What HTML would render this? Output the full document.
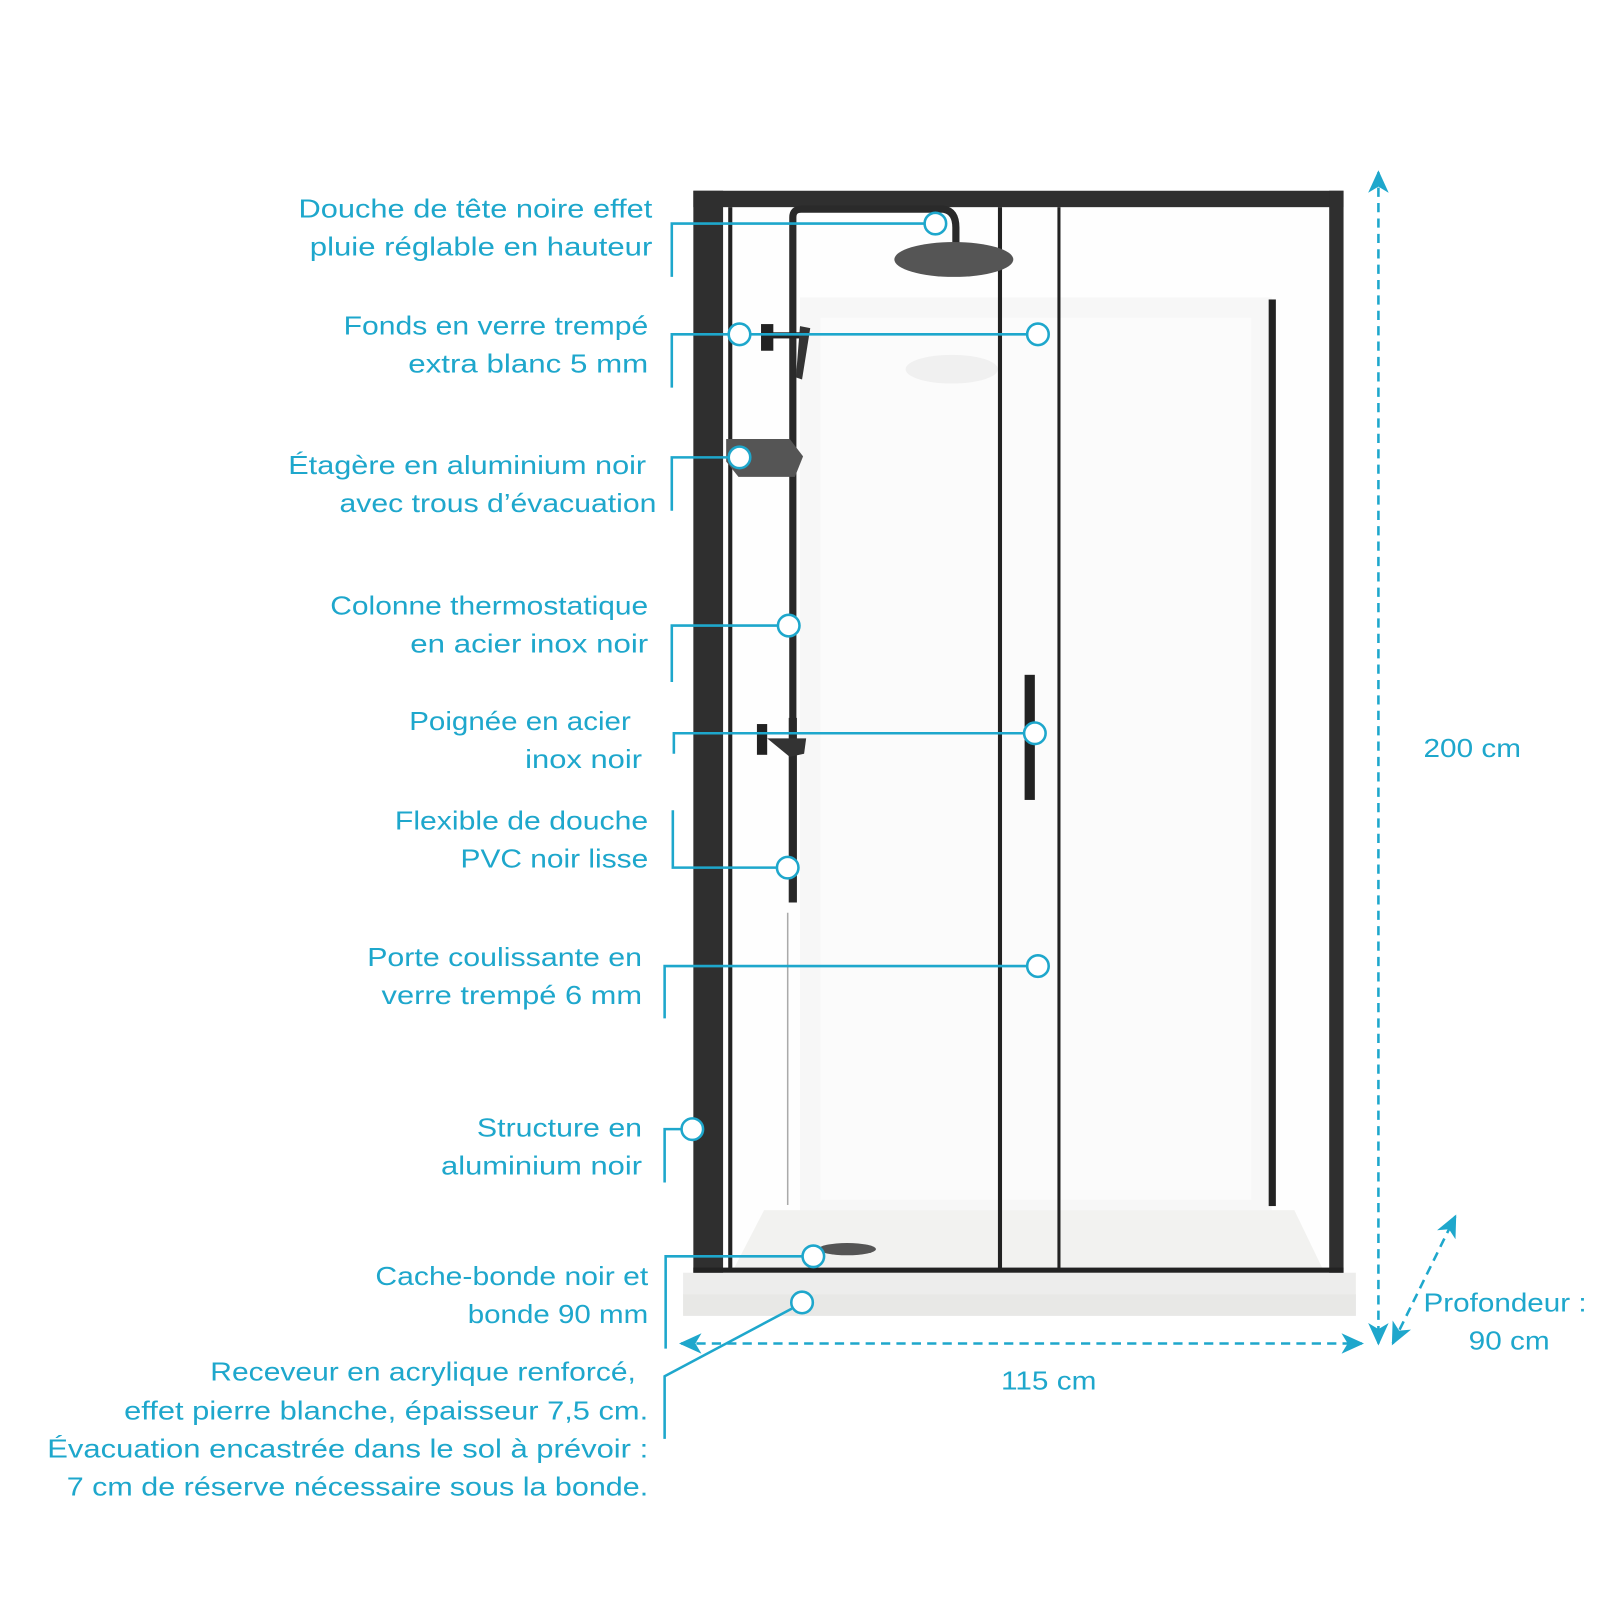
<!DOCTYPE html>
<html><head><meta charset="utf-8"><style>html,body{margin:0;padding:0;background:#fff;width:1600px;height:1605px;overflow:hidden}</style></head>
<body>
<svg width="1600" height="1605" viewBox="0 0 1560 1565" xmlns="http://www.w3.org/2000/svg">
<defs>
<marker id="ah" markerWidth="22" markerHeight="20" refX="20" refY="10" orient="auto-start-reverse" markerUnits="userSpaceOnUse" viewBox="0 0 22 20"><path d="M0,0 L22,10 L0,20 L6,10 Z" fill="#1ea7cc"/></marker>
</defs>
<rect width="1560" height="1565" fill="#fff"/>
<!-- walls -->
<rect x="705" y="202" width="591" height="1036" fill="#fefefe"/>
<rect x="780" y="290" width="460" height="890" fill="#f7f7f7"/>
<rect x="800" y="310" width="420" height="860" fill="#fbfbfb"/>
<polygon points="745,1180 1262,1180 1290,1238 715,1238" fill="#f2f2f0"/>
<ellipse cx="928" cy="360" rx="45" ry="14" fill="#f0f0f0"/>
<!-- tray -->
<rect x="666" y="1241" width="656" height="42" fill="#ededec"/>
<rect x="666" y="1262" width="656" height="21" fill="#e8e8e6"/>
<ellipse cx="826" cy="1218" rx="28" ry="6" fill="#555"/>
<!-- frame -->
<rect x="676" y="186" width="634" height="16" fill="#2f2f2f"/>
<rect x="676" y="186" width="29" height="1055" fill="#2f2f2f"/>
<rect x="1296" y="186" width="14" height="1055" fill="#2f2f2f"/>
<rect x="676" y="1236" width="634" height="5" fill="#222"/>
<rect x="710" y="202" width="4" height="1036" fill="#222"/>
<rect x="973" y="202" width="4" height="1036" fill="#222"/>
<rect x="1031" y="202" width="3" height="1036" fill="#222"/>
<rect x="1237" y="292" width="7" height="884" fill="#222"/>
<rect x="999" y="658" width="10" height="122" fill="#222"/>
<!-- shower column -->
<path d="M773,880 L773,212 Q773,204 781,204 L920,204 Q932,206 932,222 L932,238" fill="none" stroke="#2a2a2a" stroke-width="7"/>
<ellipse cx="930" cy="253" rx="58" ry="17" fill="#555"/>
<rect x="742" y="316" width="12" height="26" fill="#222"/>
<rect x="750" y="324" width="30" height="6" fill="#222"/>
<path d="M780,318 L790,320 L782,370 L776,368 Z" fill="#333"/>
<polygon points="708,428 770,428 783,445 775,465 720,465 708,450" fill="#555"/>
<path d="M773,700 L773,880" stroke="#2a2a2a" stroke-width="8"/>
<rect x="738" y="706" width="10" height="30" fill="#222"/>
<path d="M748,720 L786,720 L784,735 L770,738 Z" fill="#333"/>
<path d="M768,890 L768,1175" stroke="#aaa" stroke-width="1.5"/>
<!-- annotations -->
<g fill="none" stroke="#1ea7cc" stroke-width="2.5">
<path d="M655,270 V218 H901"/><circle cx="912" cy="218" r="10.5" fill="#fff"/>
<path d="M655,378 V326 H1001"/><circle cx="721" cy="326" r="10.5" fill="#fff"/><circle cx="1012" cy="326" r="10.5" fill="#fff"/>
<path d="M655,498 V446 H710"/><circle cx="721" cy="446" r="10.5" fill="#fff"/>
<path d="M655,665 V610 H758"/><circle cx="769" cy="610" r="10.5" fill="#fff"/>
<path d="M657,735 V715 H998"/><circle cx="1009" cy="715" r="10.5" fill="#fff"/>
<path d="M656,790 V846 H757"/><circle cx="768" cy="846" r="10.5" fill="#fff"/>
<path d="M648,993 V942 H1001"/><circle cx="1012" cy="942" r="10.5" fill="#fff"/>
<path d="M648,1153 V1101 H664"/><circle cx="675" cy="1101" r="10.5" fill="#fff"/>
<path d="M649,1315 V1225 H782"/><circle cx="793" cy="1225" r="10.5" fill="#fff"/>
<path d="M648,1403 V1342 L772,1276"/><circle cx="782" cy="1270" r="10.5" fill="#fff"/>
</g>
<g stroke="#1ea7cc" stroke-width="2.5" stroke-dasharray="9,6" fill="none">
<line x1="1344" y1="168" x2="1344" y2="1310" marker-start="url(#ah)" marker-end="url(#ah)"/>
<line x1="664" y1="1310" x2="1328" y2="1310" marker-start="url(#ah)" marker-end="url(#ah)"/>
<line x1="1358" y1="1310" x2="1419" y2="1186" marker-start="url(#ah)" marker-end="url(#ah)"/>
</g>
<g font-family="Liberation Sans, sans-serif" font-size="25" fill="#1ea7cc" text-anchor="end">
<text x="636" y="212" textLength="345" lengthAdjust="spacingAndGlyphs">Douche de tête noire effet</text>
<text x="636" y="249" textLength="334" lengthAdjust="spacingAndGlyphs">pluie réglable en hauteur</text>
<text x="632" y="326" textLength="297" lengthAdjust="spacingAndGlyphs">Fonds en verre trempé</text>
<text x="632" y="363" textLength="234" lengthAdjust="spacingAndGlyphs">extra blanc 5 mm</text>
<text x="630" y="462" textLength="349" lengthAdjust="spacingAndGlyphs">Étagère en aluminium noir</text>
<text x="640" y="499" textLength="309" lengthAdjust="spacingAndGlyphs">avec trous d’évacuation</text>
<text x="632" y="599" textLength="310" lengthAdjust="spacingAndGlyphs">Colonne thermostatique</text>
<text x="632" y="636" textLength="232" lengthAdjust="spacingAndGlyphs">en acier inox noir</text>
<text x="615" y="712" textLength="216" lengthAdjust="spacingAndGlyphs">Poignée en acier</text>
<text x="626" y="749" textLength="114" lengthAdjust="spacingAndGlyphs">inox noir</text>
<text x="632" y="809" textLength="247" lengthAdjust="spacingAndGlyphs">Flexible de douche</text>
<text x="632" y="846" textLength="183" lengthAdjust="spacingAndGlyphs">PVC noir lisse</text>
<text x="626" y="942" textLength="268" lengthAdjust="spacingAndGlyphs">Porte coulissante en</text>
<text x="626" y="979" textLength="254" lengthAdjust="spacingAndGlyphs">verre trempé 6 mm</text>
<text x="626" y="1108" textLength="161" lengthAdjust="spacingAndGlyphs">Structure en</text>
<text x="626" y="1145" textLength="196" lengthAdjust="spacingAndGlyphs">aluminium noir</text>
<text x="632" y="1253" textLength="266" lengthAdjust="spacingAndGlyphs">Cache-bonde noir et</text>
<text x="632" y="1290" textLength="176" lengthAdjust="spacingAndGlyphs">bonde 90 mm</text>
<text x="620" y="1346" textLength="415" lengthAdjust="spacingAndGlyphs">Receveur en acrylique renforcé,</text>
<text x="632" y="1384" textLength="511" lengthAdjust="spacingAndGlyphs">effet pierre blanche, épaisseur 7,5 cm.</text>
<text x="632" y="1421" textLength="586" lengthAdjust="spacingAndGlyphs">Évacuation encastrée dans le sol à prévoir :</text>
<text x="632" y="1458" textLength="567" lengthAdjust="spacingAndGlyphs">7 cm de réserve nécessaire sous la bonde.</text>
<text x="1483" y="738" textLength="95" lengthAdjust="spacingAndGlyphs">200 cm</text>
<text x="1069" y="1355" textLength="93" lengthAdjust="spacingAndGlyphs">115 cm</text>
<text x="1547" y="1279" textLength="159" lengthAdjust="spacingAndGlyphs">Profondeur :</text>
<text x="1511" y="1316" textLength="79" lengthAdjust="spacingAndGlyphs">90 cm</text>
</g>
</svg>
</body></html>
